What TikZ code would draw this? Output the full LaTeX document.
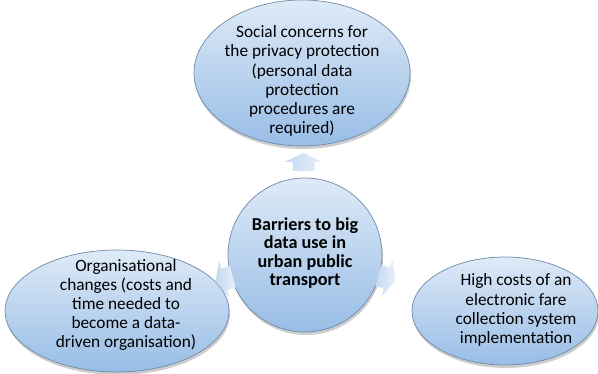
\documentclass[tikz,border=0pt]{standalone}
\usepackage{fontspec}
\setmainfont{Carlito}
\usetikzlibrary{shapes.geometric,shadows,calc}
\definecolor{elltop}{HTML}{DEEAF7}
\definecolor{ellbot}{HTML}{98BDE6}
\definecolor{ellline}{HTML}{6F8AA8}
\definecolor{arrA}{HTML}{C4D9F0}
\definecolor{arrB}{HTML}{E6EFF9}
\begin{document}
\begin{tikzpicture}[x=1pt,y=1pt,
  bubble/.style={ellipse, draw=ellline, line width=0.7pt, top color=elltop, bottom color=ellbot, inner sep=0pt,
    drop shadow={shadow xshift=1pt, shadow yshift=-3pt, opacity=0.28, fill=black!70}},
  btext/.style={align=center, font=\fontsize{17.3}{19.2}\selectfont, text=black, inner sep=0pt},
  barrow/.pic={\shade[left color=arrA, right color=arrB] (-9,-11)--(0,-11)--(0,-19)--(9,0)--(0,19)--(0,11)--(-9,11)--cycle;}
]
\useasboundingbox (0,0) rectangle (598,374);
% bubbles
\node[bubble, minimum width=216pt, minimum height=146pt] (top) at (302,301) {};
\node[bubble, circle, minimum size=154pt] (hub) at (305,119) {};
\node[bubble, minimum width=224pt, minimum height=122pt] (left) at (117,63) {};
\node[bubble, minimum width=186pt, minimum height=108pt] (right) at (505,63) {};
% texts
\node[btext] (toptext) at (302,293) {Social concerns for\\the privacy protection\\(personal data\\protection\\procedures are\\required)};
\node[btext, font=\fontsize{18.2}{18.5}\selectfont\bfseries] (hubtext) at (305,121) {Barriers to big\\data use in\\urban public\\transport};
\node[btext] (lefttext) at (126,69) {Organisational\\changes (costs and\\time needed to\\become a data-\\driven organisation)};
\node[btext] (righttext) at (516,64) {High costs of an\\electronic fare\\collection system\\implementation};
% block arrows
\pic[rotate=90] at ($(hub.north)!0.5!(top.south)$) {barrow};
\pic[rotate=196] at ($(hub.center)!0.43!(left.center)$) {barrow};
\pic[rotate=-16] at ($(hub.center)!0.41!(right.center)$) {barrow};
\end{tikzpicture}
\end{document}
